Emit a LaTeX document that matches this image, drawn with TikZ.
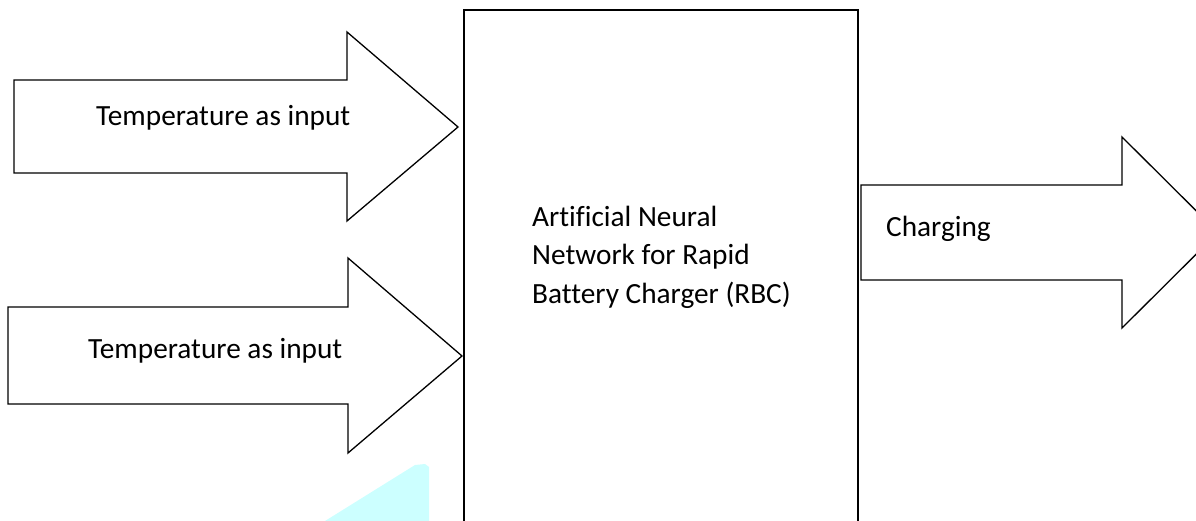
\documentclass[tikz,border=0pt]{standalone}
\usepackage{fontspec}
\setmainfont{Carlito}[Ligatures=CommonOff]
\definecolor{lightcyan}{RGB}{204,255,255}
\begin{document}
\begin{tikzpicture}[x=1pt,y=-1pt,
  arrowshape/.style={draw=black,line width=1.3pt,line join=miter,fill=white},
  boxshape/.style={draw=black,line width=1.6pt},
  lbl/.style={inner sep=0pt,anchor=base west,font=\fontsize{29.3}{38.3}\selectfont}]
\useasboundingbox (0,0) rectangle (1196,521);
\clip (0,0) rectangle (1196,521);
% light cyan artifact
\fill[lightcyan] (325,521) -- (415,465) -- (425,464) -- (429,467) -- (429,521) -- cycle;
% central box
\draw[boxshape] (464,10) rectangle (858,540);
% input arrow 1
\draw[arrowshape] (14,80) -- (347,80) -- (347,32) -- (458,127) -- (347,221) -- (347,173) -- (14,173) -- cycle;
% input arrow 2
\draw[arrowshape] (8,307) -- (348,307) -- (348,258) -- (462,356) -- (348,453) -- (348,404) -- (8,404) -- cycle;
% output arrow
\draw[arrowshape] (861,185) -- (1122,185) -- (1122,137) -- (1218,232.5) -- (1122,328) -- (1122,280) -- (861,280) -- cycle;
% labels
\node[lbl] (t1) at (96,126) {Temperature as input};
\node[lbl] (t2) at (88,358) {Temperature as input};
\node[lbl] (ch) at (886,237) {Charging};
\node[lbl,align=left] (ann) at (532,303) {Artificial Neural\\Network for Rapid\\Battery Charger (RBC)};
\end{tikzpicture}
\end{document}
